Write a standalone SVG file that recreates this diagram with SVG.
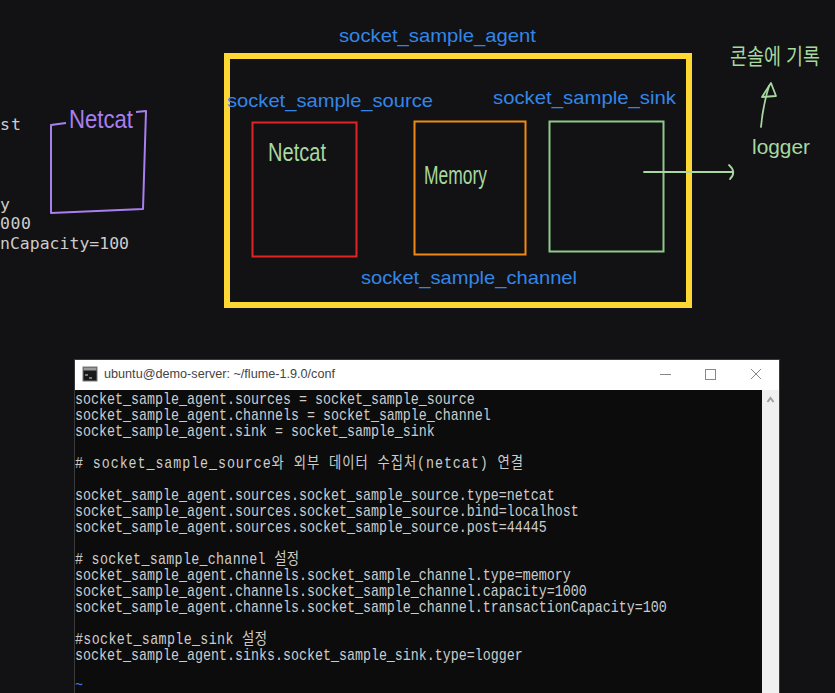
<svg xmlns="http://www.w3.org/2000/svg" width="835" height="693" viewBox="0 0 835 693">
<defs>
<style>
.lbl{font-family:"Liberation Sans","Noto Sans",sans-serif;font-size:19px;fill:#3386e8}
.hand{font-family:"Liberation Sans","Noto Sans CJK KR",sans-serif;fill:#a6d8a0}
.term{font-family:"Liberation Mono","Noto Sans CJK KR",monospace;font-size:13.33px;fill:#cccccc}
.code{font-family:"DejaVu Sans Mono",monospace;font-size:16.5px;fill:#cccccc}
.hl{fill:none;stroke:#a6d8a0;stroke-width:1.8;stroke-linecap:round;stroke-linejoin:round}
</style>
</defs>
<rect x="0" y="0" width="835" height="693" fill="#121114"/>

<!-- partial editor text at left edge -->
<g id="left-code">
<text class="code" x="0" y="130" textLength="21">st</text>
<text class="code" x="0" y="210">y</text>
<text class="code" x="0" y="229" textLength="31">000</text>
<text class="code" x="0" y="249" textLength="129">nCapacity=100</text>
</g>

<!-- external netcat box -->
<g id="netcat-external">
<path d="M66,123 L51,125 L51,213 L143,209 L146,111 L136,112" fill="none" stroke="#a97ff0" stroke-width="2" stroke-linejoin="round"/>
<text x="69" y="128" font-family="Liberation Sans,sans-serif" font-size="25" fill="#a97ff0" textLength="64" lengthAdjust="spacingAndGlyphs">Netcat</text>
</g>

<!-- agent -->
<g id="socket_sample_agent">
<rect x="227" y="56" width="462" height="249" fill="none" stroke="#fdd733" stroke-width="6"/>
<text class="lbl" x="339" y="42" textLength="197" lengthAdjust="spacingAndGlyphs">socket_sample_agent</text>
</g>

<g id="socket_sample_source">
<rect x="252.5" y="122.5" width="104" height="134" fill="none" stroke="#e02424" stroke-width="2"/>
<text class="lbl" x="227" y="107" textLength="206" lengthAdjust="spacingAndGlyphs">socket_sample_source</text>
<text class="hand" x="268" y="161" font-size="26" textLength="58" lengthAdjust="spacingAndGlyphs">Netcat</text>
</g>

<g id="socket_sample_channel">
<rect x="414.5" y="121.5" width="111" height="133" fill="none" stroke="#ef8a12" stroke-width="2"/>
<text class="lbl" x="361" y="284" textLength="216" lengthAdjust="spacingAndGlyphs">socket_sample_channel</text>
<text class="hand" x="424" y="184" font-size="26" textLength="63" lengthAdjust="spacingAndGlyphs">Memory</text>
</g>

<g id="socket_sample_sink">
<rect x="549.5" y="121.5" width="114" height="130" fill="none" stroke="#8fc98a" stroke-width="2"/>
<text class="lbl" x="493" y="104" textLength="183" lengthAdjust="spacingAndGlyphs">socket_sample_sink</text>
</g>

<g id="logger-note">
<text class="hand" x="752" y="154" font-size="21" textLength="58" lengthAdjust="spacingAndGlyphs">logger</text>
<text class="hand" transform="translate(730,64) scale(1,1.3)" font-size="17" textLength="90" lengthAdjust="spacingAndGlyphs">콘솔에 기록</text>
</g>

<g id="connectors">
<path class="hl" d="M644,172 L733,172"/>
<path class="hl" d="M729,165 Q737,172 730,179"/>
<path class="hl" d="M761,127 Q763,105 769,86"/>
<path class="hl" d="M762,97 L771,83 L776,96 Z"/>
</g>

<!-- terminal window -->
<g id="terminal">
<rect x="74.5" y="359.5" width="705" height="340" fill="#0c0c0c" stroke="#3a3a3a" stroke-width="1"/>
<rect x="75" y="360" width="704" height="30" fill="#ffffff"/>
<rect x="762" y="390" width="17" height="303" fill="#f0f0f0"/>
<path d="M767.5,402 L770.5,398 L773.5,402" fill="none" stroke="#a0a0a0" stroke-width="2"/>
<rect x="83" y="367" width="14" height="14" fill="#1a1a1a" stroke="#7a7a7a" stroke-width="1"/>
<rect x="83.5" y="367.5" width="13" height="3" fill="#9a9a9a"/>
<path d="M85,375 L88,375 M89,378 L92,378" stroke="#e0e0e0" stroke-width="1"/>
<text x="104" y="378" font-family="Liberation Sans,sans-serif" font-size="12" fill="#444444" textLength="231" lengthAdjust="spacingAndGlyphs">ubuntu@demo-server: ~/flume-1.9.0/conf</text>
<path d="M660,374.5 L671,374.5" stroke="#888888" stroke-width="1"/>
<rect x="705.5" y="369.5" width="10" height="10" fill="none" stroke="#888888" stroke-width="1"/>
<path d="M751,369 L761,379 M761,369 L751,379" stroke="#888888" stroke-width="1"/>

<text class="term" transform="translate(75,404) scale(1,1.2)">socket_sample_agent.sources = socket_sample_source</text>
<text class="term" transform="translate(75,420) scale(1,1.2)">socket_sample_agent.channels = socket_sample_channel</text>
<text class="term" transform="translate(75,436) scale(1,1.2)">socket_sample_agent.sink = socket_sample_sink</text>
<text class="term" transform="translate(75,468) scale(1,1.2)" textLength="448"># socket_sample_source와 외부 데이터 수집처(netcat) 연결</text>
<text class="term" transform="translate(75,500) scale(1,1.2)">socket_sample_agent.sources.socket_sample_source.type=netcat</text>
<text class="term" transform="translate(75,516) scale(1,1.2)">socket_sample_agent.sources.socket_sample_source.bind=localhost</text>
<text class="term" transform="translate(75,532) scale(1,1.2)">socket_sample_agent.sources.socket_sample_source.post=44445</text>
<text class="term" transform="translate(75,564) scale(1,1.2)" textLength="224"># socket_sample_channel 설정</text>
<text class="term" transform="translate(75,580) scale(1,1.2)">socket_sample_agent.channels.socket_sample_channel.type=memory</text>
<text class="term" transform="translate(75,596) scale(1,1.2)">socket_sample_agent.channels.socket_sample_channel.capacity=1000</text>
<text class="term" transform="translate(75,612) scale(1,1.2)">socket_sample_agent.channels.socket_sample_channel.transactionCapacity=100</text>
<text class="term" transform="translate(75,644) scale(1,1.2)" textLength="192">#socket_sample_sink 설정</text>
<text class="term" transform="translate(75,660) scale(1,1.2)">socket_sample_agent.sinks.socket_sample_sink.type=logger</text>
<text class="term" transform="translate(75,690) scale(1,1.2)" style="fill:#3b78ff">~</text>
</g>
</svg>
